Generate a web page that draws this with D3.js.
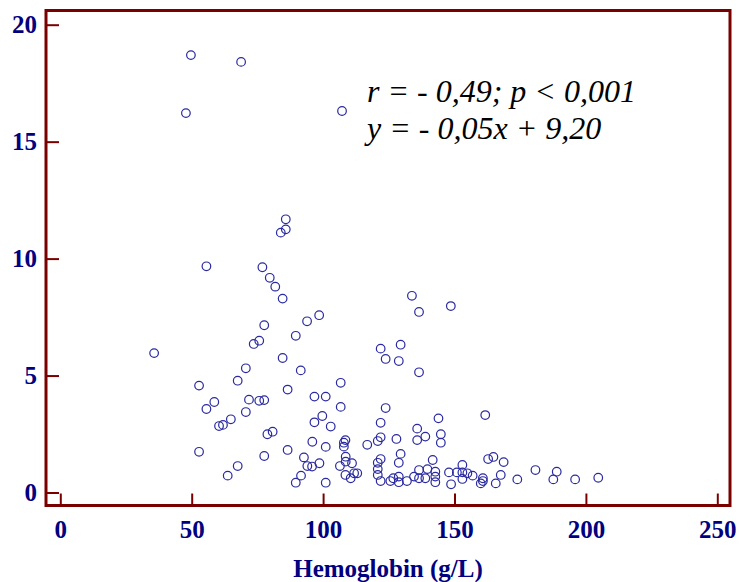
<!DOCTYPE html>
<html>
<head>
<meta charset="utf-8">
<script src="https://cdn.jsdelivr.net/npm/d3@7"></script>
<style>
  body { margin: 0; background: #fff; }
  .tick text { font-family: "Liberation Serif", "Times New Roman", serif; font-weight: bold; fill: #000080; }
</style>
</head>
<body>
<script>
//hemoglobin (g/L) on x, second measure on y
var hemoglobin = [49.7, 47.8, 68.8, 107.2, 85.8, 85.8, 83.9, 55.6, 76.9, 79.7, 81.8, 84.6, 98.5, 93.9, 77.6, 89.6, 75.7, 73.6, 35.7, 84.6,
    70.6, 91.5, 67.5, 52.8, 106.7, 86.5, 58.6, 55.6, 71.8, 75.7, 77.6, 96.7, 101.0, 106.7, 70.6, 64.9, 60.4, 61.9, 99.7, 96.7,
    102.9, 78.8, 80.8, 95.9, 101.0, 52.8, 77.6, 86.5, 92.7, 98.6, 94.0, 95.8, 67.5, 63.7, 91.6, 89.6, 101.0,
    133.8, 148.6, 136.5, 129.5, 121.9, 123.8, 128.8, 136.5, 123.8, 121.9, 143.9, 161.7, 135.8, 138.9, 144.8, 144.8, 135.8, 127.9, 121.9,
    120.8, 116.8, 108.5, 107.9, 107.9, 129.5, 121.9, 120.8, 128.8, 141.7, 162.8, 164.8, 168.7, 108.6, 108.6, 111.0, 106.4, 111.8, 113.0,
    108.5, 110.5, 120.8, 120.8, 121.9, 125.6, 126.7, 128.8, 128.8, 131.9, 134.6, 136.5, 136.5, 139.7, 138.9, 142.7, 142.7, 142.7, 147.9,
    148.7, 153.0, 153.0, 153.0, 150.9, 154.9, 156.9, 160.8, 160.8, 160.0, 165.7, 167.6, 173.9, 180.8, 188.9, 187.6, 195.9, 204.7];
var yValues = [18.70, 16.22, 18.41, 16.31, 11.68, 11.25, 11.11, 9.67, 9.63, 9.18, 8.80, 8.29, 7.58, 7.32, 7.15, 6.70, 6.49, 6.35, 5.96, 5.75,
    5.31, 5.22, 4.78, 4.57, 4.69, 4.40, 3.87, 3.57, 3.97, 3.92, 3.95, 4.10, 4.10, 3.66, 3.44, 3.13, 2.84, 2.89, 3.27, 3.00,
    2.82, 2.49, 2.60, 2.17, 1.95, 1.74, 1.56, 1.82, 1.50, 1.25, 1.13, 1.11, 1.13, 0.72, 0.72, 0.42, 0.42,
    8.41, 7.97, 7.72, 6.32, 6.15, 5.71, 5.62, 5.14, 3.61, 2.98, 3.17, 3.31, 2.73, 2.39, 2.49, 2.13, 2.24, 2.29, 2.36,
    2.20, 2.04, 2.24, 2.13, 1.96, 1.65, 1.43, 1.27, 1.27, 1.39, 1.43, 1.52, 1.30, 1.53, 1.32, 1.25, 1.13, 0.82, 0.82,
    0.75, 0.61, 1.00, 0.75, 0.49, 0.49, 0.61, 0.68, 0.44, 0.49, 0.68, 0.96, 0.61, 1.00, 0.61, 0.89, 0.68, 0.44, 0.86,
    0.35, 1.18, 0.86, 0.58, 0.86, 0.82, 0.72, 0.61, 0.49, 0.39, 0.39, 0.75, 0.56, 0.96, 0.89, 0.56, 0.56, 0.63];
var xTicks = [0, 50, 100, 150, 200, 250];
var yTicks = [0, 5, 10, 15, 20];
var statLines = ["r = - 0,49; p < 0,001", "y = - 0,05x + 9,20"];
var xTitle = "Hemoglobin (g/L)";

var width = 739,
    height = 582;

var frameColor = "#7a0000",
    textColor = "#000080",
    dotColor = "#2a2aa0";

var svg = d3.select("body")
    .append("svg")
    .attr("width", width)
    .attr("height", height);

var x = d3.scaleLinear().domain([0, 250]).range([60.3, 717.3]);
var y = d3.scaleLinear().domain([0, 20]).range([492.5, 24.7]);

//frame box
svg.append("rect")
    .attr("x", 46)
    .attr("y", 10.5)
    .attr("width", 684)
    .attr("height", 495)
    .attr("fill", "none")
    .attr("stroke", frameColor)
    .attr("stroke-width", 3);

//axes with ticks pointing inside
var xAxis = svg.append("g")
    .attr("transform", "translate(0,505.5)")
    .call(d3.axisBottom(x).tickValues(xTicks).tickSizeInner(-12).tickSizeOuter(0).tickPadding(15));

var yAxis = svg.append("g")
    .attr("transform", "translate(46,0)")
    .call(d3.axisLeft(y).tickValues(yTicks).tickSizeInner(-13).tickSizeOuter(0).tickPadding(9));

[xAxis, yAxis].forEach(function(g){
    g.select(".domain").remove();
    g.selectAll(".tick line").attr("stroke", frameColor).attr("stroke-width", 2);
    g.selectAll(".tick text").attr("font-size", 25);
});

//points
svg.selectAll(".dot")
    .data(hemoglobin)
    .enter()
    .append("circle")
    .attr("class", "dot")
    .attr("cx", function(d){ return x(d); })
    .attr("cy", function(d, i){ return y(yValues[i]); })
    .attr("r", 4.3)
    .attr("fill", "none")
    .attr("stroke", dotColor)
    .attr("stroke-width", 1.2);

//regression text
svg.selectAll(".stat")
    .data(statLines)
    .enter()
    .append("text")
    .attr("class", "stat")
    .attr("x", 367)
    .attr("y", function(d, i){ return 102 + i * 37; })
    .attr("font-family", "Liberation Serif, Times New Roman, serif")
    .attr("font-style", "italic")
    .attr("font-size", 32)
    .attr("fill", "#000")
    .text(function(d){ return d; });

//x title
svg.append("text")
    .attr("x", 388)
    .attr("y", 577)
    .attr("text-anchor", "middle")
    .attr("font-family", "Liberation Serif, Times New Roman, serif")
    .attr("font-weight", "bold")
    .attr("font-size", 25)
    .attr("fill", textColor)
    .text(xTitle);
</script>
</body>
</html>
